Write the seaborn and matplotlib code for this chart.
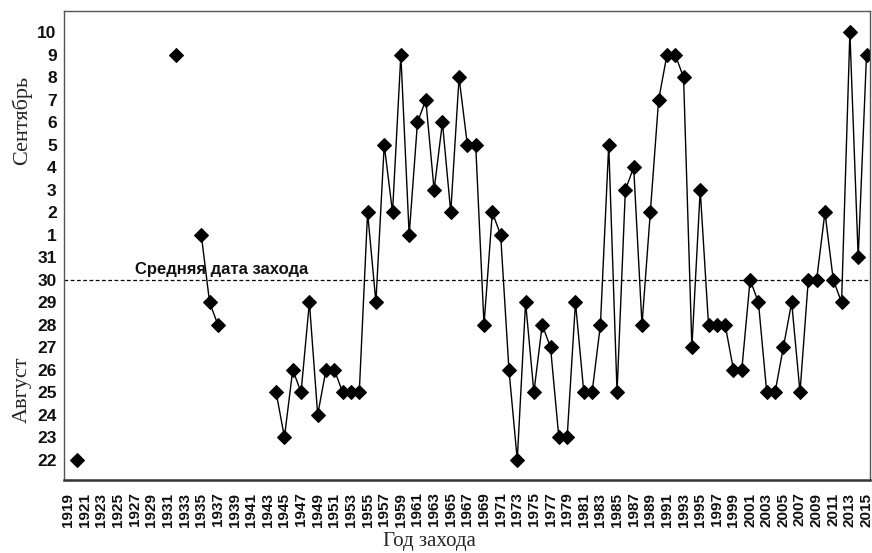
import matplotlib
matplotlib.use("Agg")
import matplotlib.pyplot as plt
import seaborn as sns
import pandas as pd
import numpy as np

# Year of the event and date counted as day of August (Sep 1 = 32)
years = [1920, 1932, 1935, 1936, 1937] + list(range(1944, 2016))
days = [22, 40, 32, 29, 28,
        # 1944-1960
        25, 23, 26, 25, 29, 24, 26, 26, 25, 25, 25, 33, 29, 36, 33, 40, 32,
        # 1961-1977
        37, 38, 34, 37, 33, 39, 36, 36, 28, 33, 32, 26, 22, 29, 25, 28, 27,
        # 1978-1993
        23, 23, 29, 25, 25, 28, 36, 25, 34, 35, 28, 33, 38, 40, 40, 39,
        # 1994-2015
        27, 34, 28, 28, 28, 26, 26, 30, 29, 25, 25, 27, 29, 25, 30, 30, 33,
        30, 29, 41, 31, 40]
segments = [0, 1, 2, 2, 2] + [3] * 72

mean_day = 30
ytick_vals = list(range(22, 42))
ytick_labels = [str(d) for d in range(22, 32)] + [str(d) for d in range(1, 11)]
xtick_vals = list(range(1919, 2016, 2))

df = pd.DataFrame({"year": years, "day": days, "seg": segments})

sns.set_theme(style="white")
plt.rcParams["font.family"] = ["Liberation Sans", "DejaVu Sans"]

fig = plt.figure(figsize=(8.72, 5.53), dpi=100)
ax = fig.add_axes([0.073, 0.132, 0.925, 0.848])

sns.lineplot(data=df, x="year", y="day", units="seg", estimator=None,
             color="black", linewidth=1.0, marker="D", markersize=7.5,
             markeredgecolor="black", markerfacecolor="black", ax=ax,
             legend=False)

ax.axhline(mean_day, color="black", linestyle=(0, (3, 2)), linewidth=0.9)
ax.text(1927.0, mean_day + 0.12, "Средняя дата захода", fontsize=12,
        fontweight="bold", ha="left", va="bottom", color="#111111")

ax.set_xlim(1918.45, 2015.45)
ax.set_ylim(21.1, 41.95)

ax.set_xticks(xtick_vals)
ax.set_xticklabels([str(v) for v in xtick_vals], rotation=90,
                   fontsize=11, fontweight="bold")
ax.set_yticks(ytick_vals)
ax.set_yticklabels(ytick_labels, fontsize=12.5, fontweight="bold")
ax.tick_params(axis="x", length=0, pad=9, colors="#111111")
ax.tick_params(axis="y", length=0, pad=5, colors="#111111")

ax.set_xlabel("")
ax.set_ylabel("")

for s in ["top", "left", "right"]:
    ax.spines[s].set_color("#555555")
    ax.spines[s].set_linewidth(1.0)
ax.spines["bottom"].set_color("#333333")
ax.spines["bottom"].set_linewidth(1.8)

serif = ["Liberation Serif", "DejaVu Serif"]
fig.text(0.493, 0.004, "Год захода", family=serif, fontsize=15,
         ha="center", va="bottom")
fig.text(0.025, 0.783, "Сентябрь", family=serif, fontsize=16,
         rotation=90, ha="center", va="center")
fig.text(0.025, 0.295, "Август", family=serif, fontsize=16,
         rotation=90, ha="center", va="center")

fig.savefig("out.png", dpi=100)
